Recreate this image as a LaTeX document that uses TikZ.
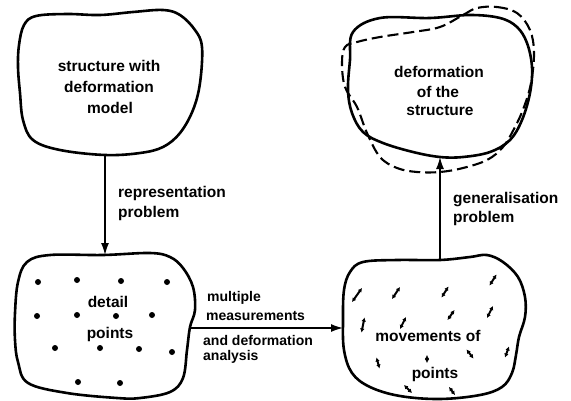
\documentclass[tikz,border=0pt]{standalone}
\usepackage{fontspec}
\setmainfont{Liberation Sans}
\usetikzlibrary{arrows.meta}
\begin{document}
\begin{tikzpicture}[x=1pt,y=-1pt,
  blob/.style={line width=2.6pt, line join=round},
  dblob/.style={line width=2.1pt, dash pattern=on 11pt off 5pt},
  conn/.style={line width=1.4pt, -{Latex[length=12pt,width=8pt]}},
  lbl/.style={font=\fontsize{15.5}{18}\selectfont\bfseries, anchor=base west, inner sep=0},
  mlbl/.style={font=\fontsize{14}{16}\selectfont\bfseries, anchor=base west, inner sep=0},
  txt/.style={font=\fontsize{15.5}{18}\selectfont\bfseries, anchor=base, inner sep=0},
  pt/.style={circle, fill, inner sep=0, minimum size=6pt},
  mv/.style={line width=2pt, {Latex[length=4pt,width=4.5pt]}-{Latex[length=4pt,width=4.5pt]}}
]
\useasboundingbox (0,0) rectangle (571,400);

% blob A
\draw[blob] plot[smooth cycle, tension=0.6] coordinates {(105,155) (140,153) (163,147) (180,133) (193,110) (200,83) (202,47) (195,30) (180,15) (163,10) (133,12) (100,15) (67,14) (36,16) (24,25) (19,45) (18,67) (20,93) (23,120) (33,140) (60,150)};
% blob B
\draw[blob] plot[smooth cycle, tension=0.6] coordinates {(15,313) (15,340) (18,362) (28,383) (67,393) (117,398) (140,398) (170,392) (183,378) (187,350) (190,327) (195,310) (193,287) (183,268) (170,257) (150,253) (103,255) (50,255) (27,262) (18,282)};
% blob C
\draw[blob] plot[smooth cycle, tension=0.6] coordinates {(343,320) (344,350) (352,373) (370,387) (400,396) (440,399) (480,395) (502,387) (512,373) (516,355) (519,337) (525,317) (525,297) (518,277) (503,262) (487,255) (470,257) (440,260) (397,260) (363,262) (350,272) (344,290)};
% blob D
\draw[blob] plot[smooth cycle, tension=0.6] coordinates {(353,32) (380,18) (430,18) (470,15) (500,18) (517,27) (527,43) (532,67) (530,93) (522,120) (510,140) (490,152) (463,157) (440,157) (413,152) (383,143) (363,132) (352,113) (348,90) (350,60)};
\draw[dblob] plot[smooth cycle, tension=0.6] coordinates {(477,8) (497,7) (517,13) (530,30) (534,53) (531,83) (524,107) (515,127) (503,147) (487,160) (463,168) (440,172) (417,172) (397,168) (380,157) (367,133) (357,107) (345,87) (342,63) (345,47) (357,42) (380,37) (413,32) (440,27) (463,15)};

% dots in B
\foreach \x/\y [count=\i] in {38/282,77/280,121/281,167/282,37/316,77/315,116/316,152/315,55/348,100/348,139/349,172/352,78/382,120/383}
  \node[pt] (d\i) at (\x,\y) {};

% movement marks in C
\foreach \x/\y/\dx/\dy in {357/295/5/-7, 396/293/4/-6, 445/292/3.5/-5.5, 493/280/3.5/-5.5,
  363/325/1.5/-7.5, 403/323/3/-6, 451/315/3.5/-5, 490/312/3/-6,
  378/363/-1.5/-5.5, 427/359/0/-4, 470/354/3.5/4.5, 507/352/2/-5.5, 408/389/4/4, 452/391/3/4}
  \draw[mv] (\x-\dx,\y-\dy) -- (\x+\dx,\y+\dy);

% texts
\node[txt] (a1) at (109,71) {structure with};
\node[txt] (a2) at (109,92) {deformation};
\node[txt] (a3) at (110,113) {model};
\node[txt] (b1) at (108,307) {detail};
\node[txt] (b2) at (110,338) {points};
\node[txt] (c1) at (428,341) {movements of};
\node[txt] (c2) at (435,378) {points};
\node[txt] (e1) at (439,77) {deformation};
\node[txt] (e2) at (438,97) {of the};
\node[txt] (e3) at (440,115) {structure};

\node[lbl] (l1) at (118,197) {representation};
\node[lbl] (l2) at (118,217) {problem};
\node[lbl] (l3) at (453,203) {generalisation};
\node[lbl] (l4) at (453,222) {problem};
\node[mlbl] (m1) at (207,301) {multiple};
\node[mlbl] (m2) at (206,320) {measurements};
\node[mlbl] (m3) at (203,345) {and deformation};
\node[mlbl] (m4) at (203,360) {analysis};

% connectors
\coordinate (Abot) at (105,155);
\coordinate (Btop) at (105,255);
\coordinate (Bright) at (190,328);
\coordinate (Cleft) at (343,328);
\coordinate (Ctop) at (440,259);
\coordinate (Dbot) at (440,157);
\draw[conn] (Abot) -- (Btop);
\draw[conn] (Bright) -- (Cleft);
\draw[conn] (Ctop) -- (Dbot);
\end{tikzpicture}
\end{document}
